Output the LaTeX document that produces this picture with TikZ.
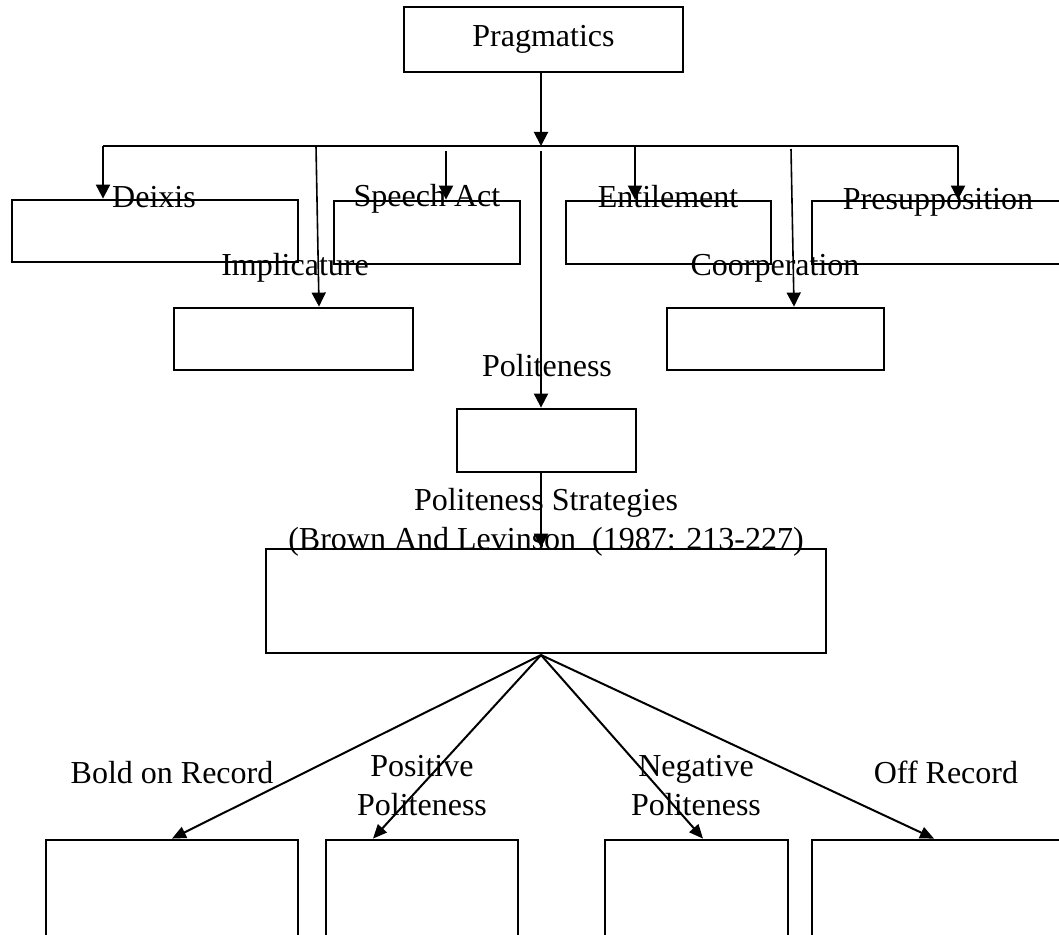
\documentclass[tikz,border=0pt]{standalone}
\usepackage{fontspec}
\setmainfont{Liberation Serif}
\usetikzlibrary{arrows.meta,calc}

\begin{document}
\begin{tikzpicture}[x=0.5pt, y=-0.5pt,
        every node/.style={font=\fontsize{16}{19.5}\selectfont},
        box/.style={draw, line width=1.4pt, inner sep=0pt},
        lbl/.style={anchor=base, inner sep=0pt, align=center},
        arr/.style={line width=1pt, -{Triangle[length=7pt,width=7pt]}},
        fanarr/.style={line width=1pt, -{Triangle[length=7pt,width=6pt]}}]
        \useasboundingbox (0,0) rectangle (1059,935);

        % Pragmatics
        \node[box, minimum width=139.5pt, minimum height=32.5pt] (prag) at (543.5,39.5) {Pragmatics};

        % Branch line
        \coordinate (hub) at (541,146);
        \coordinate (hl) at (103,146);
        \coordinate (hr) at (958,146);
        \draw[line width=0.6pt] (hl) -- (hr);
        \draw[arr] (prag.south -| hub) -- (hub);

        % First row
        \node[box, minimum width=143pt, minimum height=31pt] (deixis) at (155,231) {};
        \node[box, minimum width=93pt, minimum height=31.5pt] (speech) at (427,232.5) {};
        \node[box, minimum width=102.5pt, minimum height=31.5pt] (entil) at (668.5,232.5) {};
        \node[box, minimum width=134pt, minimum height=31.5pt] (presup) at (946,232.5) {};

        % Second row
        \node[box, minimum width=119.5pt, minimum height=31pt] (impl) at (293.5,339) {};
        \node[box, minimum width=108.5pt, minimum height=31pt] (coop) at (775.5,339) {};

        % Politeness
        \node[box, minimum width=89.5pt, minimum height=31.5pt] (polit) at (546.5,440.5) {};

        % Politeness strategies
        \node[box, minimum width=280pt, minimum height=52pt] (strat) at (546,601) {};

        % Strategy boxes
        \node[box, minimum width=126pt, minimum height=70pt] (bold) at (172,910) {};
        \node[box, minimum width=96pt, minimum height=70pt] (pos) at (422,910) {};
        \node[box, minimum width=91.5pt, minimum height=70pt] (neg) at (696.5,910) {};
        \node[box, minimum width=134pt, minimum height=70pt] (off) at (946,910) {};

        % Drops from branch line
        \coordinate (impltop) at (316,146);
        \coordinate (speechtop) at (446,151);
        \coordinate (midtop) at (541,151);
        \coordinate (entiltop) at (635,146);
        \coordinate (cooptop) at (791,149);
        \draw[arr] (hl) -- (hl |- deixis.north);
        \draw[line width=0.8pt, -{Triangle[length=7pt,width=7pt]}] (impltop) -- ($(impl.north)+(25.5,0)$);
        \draw[arr] (speechtop) -- (speechtop |- speech.north);
        \draw[arr] (midtop) -- (midtop |- polit.north);
        \draw[arr] (entiltop) -- (entiltop |- entil.north);
        \draw[line width=0.8pt, -{Triangle[length=7pt,width=7pt]}] (cooptop) -- ($(coop.north)+(18.5,0)$);
        \draw[arr] (hr) -- (hr |- presup.north);
        \draw[arr] (polit.south -| midtop) -- (midtop |- strat.north);

        % Fan to strategies
        \coordinate (fan) at (541,655);
        \draw[fanarr] (fan) -- (bold.north);
        \draw[fanarr] (fan) -- ($(pos.north)+(-49,0)$);
        \draw[fanarr] (fan) -- ($(neg.north)+(6.5,0)$);
        \draw[fanarr] (fan) -- ($(off.north)+(-12,0)$);

        % Labels
        \node[lbl] (deixislbl) at (154,208) {Deixis};
        \node[lbl] (speechlbl) at (427,207) {Speech Act};
        \node[lbl] (entillbl) at (668,208) {Entilement};
        \node[lbl] (presuplbl) at (938,210) {Presupposition};
        \node[lbl] (impllbl) at (295,276) {Implicature};
        \node[lbl] (cooplbl) at (775,276) {Coorperation};
        \node[lbl] (politlbl) at (547,376) {Politeness};
        \node[lbl] (stratlbl) at (546,549) {Politeness Strategies\\(Brown And Levinson~~(1987: 213-227)};
        \node[lbl] (boldlbl) at (172,783) {Bold on Record};
        \node[lbl] (poslbl) at (422,815) {Positive\\Politeness};
        \node[lbl] (neglbl) at (696,815) {Negative\\Politeness};
        \node[lbl] (offlbl) at (946,783) {Off Record};
    \end{tikzpicture}
\end{document}
